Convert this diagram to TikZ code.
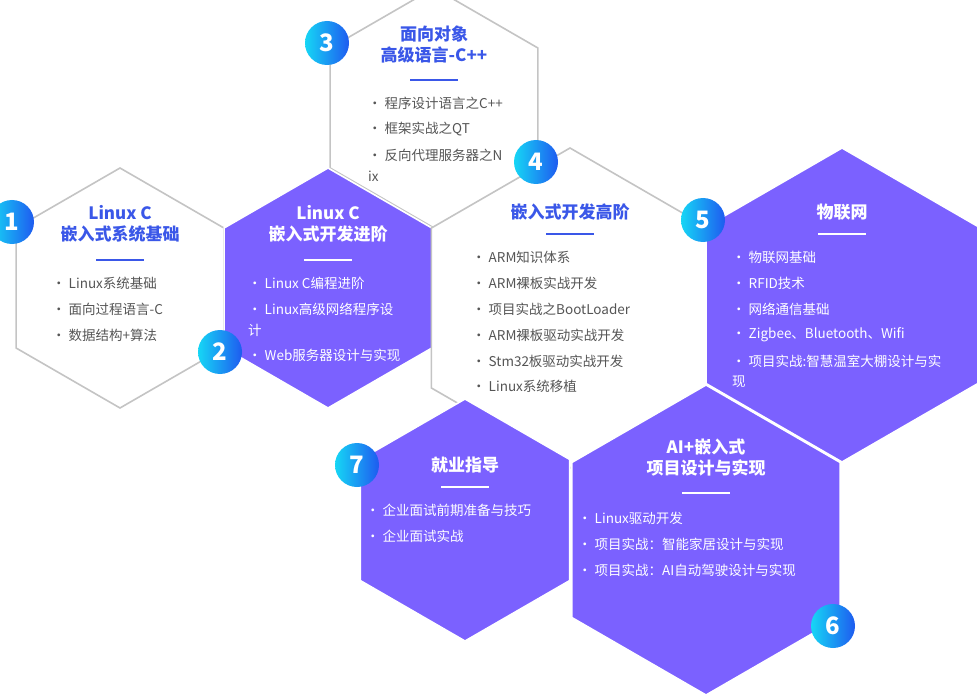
\documentclass[tikz,border=0pt]{standalone}
\usepackage{fontspec}
\setmainfont{Noto Sans CJK SC}
\usetikzlibrary{calc}
\definecolor{purp}{HTML}{7B61FF}
\definecolor{ttl}{HTML}{3A57E8}
\definecolor{gline}{HTML}{C4C4C4}
\definecolor{btxt}{HTML}{555555}
\definecolor{cA}{HTML}{16D6F5}
\definecolor{cB}{HTML}{1E5BF0}
\tikzset{
  x=1pt,y=-1pt,
  whitehex/.style={fill=white,draw=gline,line width=1.6pt},
  purphex/.style={fill=purp,draw=white,line width=1.6pt},
  bul/.style={anchor=west,font=\fontsize{13.5}{15}\selectfont,text=btxt,inner sep=0},
  bulw/.style={bul,text=white},
  ttlb/.style={align=center,font=\fontsize{17}{21}\selectfont\bfseries,text=ttl,inner sep=0},
  ttlw/.style={ttlb,text=white},
  num/.style={circle,minimum size=44pt,inner sep=0,shade,left color=cA,right color=cB,text=white,font=\fontsize{24}{24}\selectfont\bfseries}
}
\newcommand{\hexa}[4]{% style cx cy r
  \draw[#1] ($(#2,#3)+(0,-#4)$) -- ($(#2,#3)+(0.866*#4,-0.5*#4)$) -- ($(#2,#3)+(0.866*#4,0.5*#4)$) -- ($(#2,#3)+(0,#4)$) -- ($(#2,#3)+(-0.866*#4,0.5*#4)$) -- ($(#2,#3)+(-0.866*#4,-0.5*#4)$) -- cycle;}
\begin{document}
\begin{tikzpicture}
\useasboundingbox (0,0) rectangle (978,698);
% hex 3
\hexa{whitehex}{434}{108}{120}
\node[ttlb] (t3) at (434,45) {面向对象\\高级语言-C++};
\draw[ttl,line width=1.2pt] (410,80) -- (458,80);
\node[bul] (b31) at (368,103) {• 程序设计语言之C++};
\node[bul] (b32) at (368,129) {• 框架实战之QT};
\node[bul] (b33) at (368,155) {• 反向代理服务器之N};
\node[bul] (b34) at (368,176) {ix};
% hex 1
\hexa{whitehex}{120}{288}{120}
\node[ttlb] (t1) at (120,224) {Linux C\\嵌入式系统基础};
\draw[ttl,line width=1.2pt] (96,260) -- (144,260);
\node[bul] (b11) at (52,283) {• Linux系统基础};
\node[bul] (b12) at (52,309) {• 面向过程语言-C};
\node[bul] (b13) at (52,335) {• 数据结构+算法};
% hex 2
\hexa{purphex}{328}{288}{120}
\node[ttlw] (t2) at (328,224) {Linux C\\嵌入式开发进阶};
\draw[white,line width=1.2pt] (304,260) -- (352,260);
\node[bulw] (b21) at (248,283) {• Linux C编程进阶};
\node[bulw] (b22) at (248,309) {• Linux高级网络程序设};
\node[bulw] (b23) at (248,330) {计};
\node[bulw] (b24) at (248,355) {• Web服务器设计与实现};
% hex 4
\hexa{whitehex}{570}{308}{160}
\node[ttlb] (t4) at (570,212) {嵌入式开发高阶};
\draw[ttl,line width=1.2pt] (546,234) -- (594,234);
\node[bul] (b41) at (472,257) {• ARM知识体系};
\node[bul] (b42) at (472,283) {• ARM裸板实战开发};
\node[bul] (b43) at (472,309) {• 项目实战之BootLoader};
\node[bul] (b44) at (472,335) {• ARM裸板驱动实战开发};
\node[bul] (b45) at (472,361) {• Stm32板驱动实战开发};
\node[bul] (b46) at (472,386) {• Linux系统移植};
% hex 5
\hexa{purphex}{842}{305}{157}
\node[ttlw] (t5) at (842,212) {物联网};
\draw[white,line width=1.2pt] (818,234) -- (866,234);
\node[bulw] (b51) at (732,257) {• 物联网基础};
\node[bulw] (b52) at (732,283) {• RFID技术};
\node[bulw] (b53) at (732,309) {• 网络通信基础};
\node[bulw] (b54) at (732,335) {• Zigbee、Bluetooth、Wifi};
\node[bulw] (b55) at (732,361) {• 项目实战:智慧温室大棚设计与实};
\node[bulw] (b56) at (732,382) {现};
% hex 7
\hexa{purphex}{465}{520}{121}
\node[ttlw] (t7) at (465,465) {就业指导};
\draw[white,line width=1.2pt] (441,487) -- (489,487);
\node[bulw] (b71) at (366,510) {• 企业面试前期准备与技巧};
\node[bulw] (b72) at (366,536) {• 企业面试实战};
% hex 6
\hexa{purphex}{706}{540}{155}
\node[ttlw] (t6) at (706,458) {AI+嵌入式\\项目设计与实现};
\draw[white,line width=1.2pt] (682,493) -- (730,493);
\node[bulw] (b61) at (578,518) {• Linux驱动开发};
\node[bulw] (b62) at (578,544) {• 项目实战：智能家居设计与实现};
\node[bulw] (b63) at (578,570) {• 项目实战：AI自动驾驶设计与实现};
% numbers
\node[num] (n1) at (12,222) {1};
\node[num] (n2) at (220,352) {2};
\node[num] (n3) at (327,43) {3};
\node[num] (n4) at (536,162) {4};
\node[num] (n5) at (703,220) {5};
\node[num] (n7) at (357,465) {7};
\node[num] (n6) at (833,626) {6};
\end{tikzpicture}
\end{document}
